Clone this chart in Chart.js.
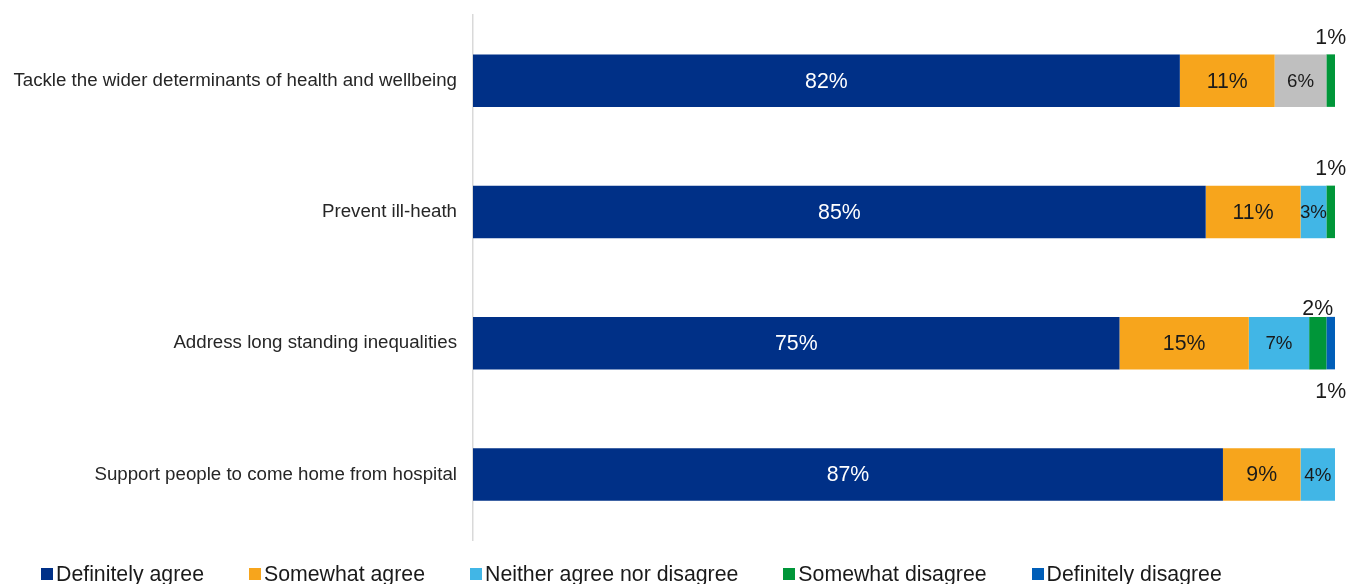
<!DOCTYPE html>
<html>
<head>
<meta charset="utf-8">
<script src="https://cdn.jsdelivr.net/npm/chart.js@4.4.1/dist/chart.umd.min.js"></script>
<style>
  html, body { margin: 0; padding: 0; background: #fff; }
  #wrap { position: relative; width: 1354px; height: 584px; }
  #legend {
    position: absolute; left: 41px; top: 561px;
    display: flex; font-family: "Liberation Sans", Arial, sans-serif;
    font-size: 21.3px; color: #1a1a1a; line-height: 26px; white-space: nowrap;
  }
  #legend .item { display: flex; align-items: center; margin-right: 45px; }
  #legend .box { width: 12px; height: 12px; margin-right: 3px; }
</style>
</head>
<body>
<div id="wrap">
  <canvas id="surveyChart" width="1354" height="584"></canvas>
  <div id="legend"></div>
</div>
<script>
// Survey statements (top to bottom)
const categories = [
  'Tackle the wider determinants of health and wellbeing',
  'Prevent ill-heath',
  'Address long standing inequalities',
  'Support people to come home from hospital'
];

// Response shares, percent
const definitelyAgree    = [82, 85, 75, 87];
const somewhatAgree      = [11, 11, 15, 9];
const neitherAgree       = [6, 3, 7, 4];
const somewhatDisagree   = [1, 1, 2, 0];
const definitelyDisagree = [0, 0, 1, 0];

const seriesNames = ['Definitely agree', 'Somewhat agree', 'Neither agree nor disagree', 'Somewhat disagree', 'Definitely disagree'];
const seriesColors = ['#003087', '#F7A51C', '#41B6E6', '#009639', '#005EB8'];
// first statement's neutral segment is shown in grey
const neitherColors = ['#BFBFBF', '#41B6E6', '#41B6E6', '#41B6E6'];

const FONT = '"Liberation Sans", Arial, sans-serif';

function makeSet(i, values, colors) {
  return {
    label: seriesNames[i],
    data: values,
    backgroundColor: colors || seriesColors[i],
    borderWidth: 0,
    barPercentage: 0.8,
    categoryPercentage: 0.5
  };
}

// value labels: inside the segment, or outside for the thin ones
const valueLabels = {
  id: 'valueLabels',
  afterDatasetsDraw(chart) {
    const ctx = chart.ctx;
    ctx.save();
    ctx.textAlign = 'center';
    chart.data.datasets.forEach((ds, di) => {
      const meta = chart.getDatasetMeta(di);
      meta.data.forEach((bar, i) => {
        const v = ds.data[i];
        if (!v) return;
        const cx = (bar.x + bar.base) / 2;
        const top = bar.y - bar.height / 2;
        const bottom = bar.y + bar.height / 2;
        if (v <= 2) {
          ctx.font = '21.3px ' + FONT;
          ctx.fillStyle = '#1a1a1a';
          if (di === 4) {
            ctx.textBaseline = 'top';
            ctx.fillText(v + '%', cx, bottom + 12);
          } else {
            // sit closer when a label goes underneath too
            const next = chart.data.datasets[4].data[i];
            ctx.textBaseline = 'bottom';
            ctx.fillText(v + '%', cx, top + (next ? 3 : -6));
          }
          return;
        }
        ctx.textBaseline = 'middle';
        ctx.font = (di === 2 ? '18.7px ' : '21.3px ') + FONT;
        ctx.fillStyle = di === 0 ? '#ffffff' : '#1a1a1a';
        ctx.fillText(v + '%', cx, bar.y + 1);
      });
    });
    ctx.restore();
  }
};

new Chart(document.getElementById('surveyChart'), {
  type: 'bar',
  data: {
    labels: categories,
    datasets: [
      makeSet(0, definitelyAgree),
      makeSet(1, somewhatAgree),
      makeSet(2, neitherAgree, neitherColors),
      makeSet(3, somewhatDisagree),
      makeSet(4, definitelyDisagree)
    ]
  },
  options: {
    indexAxis: 'y',
    responsive: false,
    animation: false,
    layout: { padding: { top: 15, right: 19, bottom: 44, left: 0 } },
    plugins: {
      legend: { display: false },
      tooltip: { enabled: false }
    },
    scales: {
      x: {
        stacked: true,
        display: false,
        min: 0,
        max: 100
      },
      y: {
        stacked: true,
        grid: { display: false, drawTicks: false },
        border: { display: true, color: '#D9D9D9', width: 1.5 },
        ticks: {
          padding: 16,
          color: '#262626',
          font: { family: FONT, size: 18.7 }
        },
        afterFit(scale) {
          scale.width = 473;
          scale.paddingTop = 0;
          scale.paddingBottom = 0;
        }
      }
    }
  },
  plugins: [valueLabels]
});

// legend row under the chart
const legend = document.getElementById('legend');
seriesNames.forEach((name, i) => {
  const item = document.createElement('div');
  item.className = 'item';
  const box = document.createElement('span');
  box.className = 'box';
  box.style.background = seriesColors[i];
  item.appendChild(box);
  item.appendChild(document.createTextNode(name));
  legend.appendChild(item);
});
</script>
</body>
</html>
